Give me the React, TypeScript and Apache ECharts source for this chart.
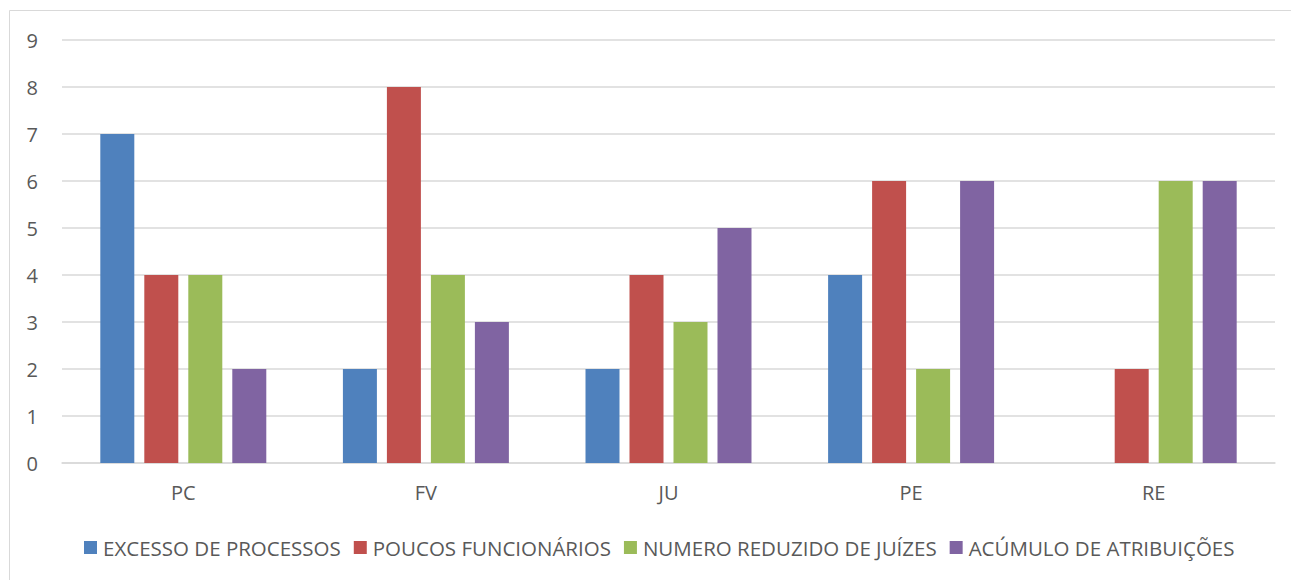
import React, { useEffect, useRef } from "react";
import * as echarts from "echarts";

const categories = ["PC", "FV", "JU", "PE", "RE"];
const seriesNames = [
  "EXCESSO DE PROCESSOS",
  "POUCOS FUNCIONÁRIOS",
  "NUMERO REDUZIDO DE JUÍZES",
  "ACÚMULO DE ATRIBUIÇÕES",
];
const excesso = [7, 2, 2, 4, 0];
const poucos = [4, 8, 4, 6, 2];
const numero = [4, 4, 3, 2, 6];
const acumulo = [2, 3, 5, 6, 6];
const colors = ["#4F81BD", "#C0504D", "#9BBB59", "#8064A2"];

const FONT = "'Open Sans', 'Noto Sans', sans-serif";

export default function App() {
  const ref = useRef<HTMLDivElement>(null);
  useEffect(() => {
    if (!ref.current) return;
    const chart = echarts.init(ref.current, null, { renderer: "svg" });
    const data = [excesso, poucos, numero, acumulo];
    chart.setOption({
      animation: false,
      backgroundColor: "#ffffff",
      textStyle: { fontFamily: FONT },
      graphic: [
        {
          type: "rect",
          shape: { x: 9.5, y: 10.5, width: 1300, height: 600 },
          style: { fill: "none", stroke: "#d9d9d9", lineWidth: 1 },
          silent: true,
        },
      ],
      grid: { left: 62, right: 16, top: 40, bottom: 117, containLabel: false },
      legend: {
        top: 532,
        left: 79,
        itemWidth: 13,
        itemHeight: 13,
        itemGap: 13,
        icon: "rect",
        textStyle: { fontFamily: FONT, fontSize: 20.5, color: "#595959", padding: [0, 0, 0, 1] },
        data: seriesNames,
      },
      xAxis: {
        type: "category",
        data: categories,
        axisLine: { lineStyle: { color: "#d9d9d9", width: 1.5 } },
        axisTick: { show: false },
        axisLabel: { fontFamily: FONT, fontSize: 20, color: "#595959", margin: 19 },
      },
      yAxis: {
        type: "value",
        min: 0,
        max: 9,
        interval: 1,
        axisLine: { show: false },
        axisTick: { show: false },
        splitLine: { lineStyle: { color: "#d9d9d9", width: 1.5 } },
        axisLabel: { fontFamily: FONT, fontSize: 20, color: "#595959", margin: 24 },
      },
      series: seriesNames.map((name, i) => ({
        name,
        type: "bar",
        data: data[i],
        barWidth: 34,
        barGap: "29.4%",
        itemStyle: { color: colors[i] },
      })),
    });
    return () => chart.dispose();
  }, []);
  return (
    <div
      ref={ref}
      style={{ position: "absolute", left: 0, top: 0, width: 1291, height: 580 }}
    />
  );
}
